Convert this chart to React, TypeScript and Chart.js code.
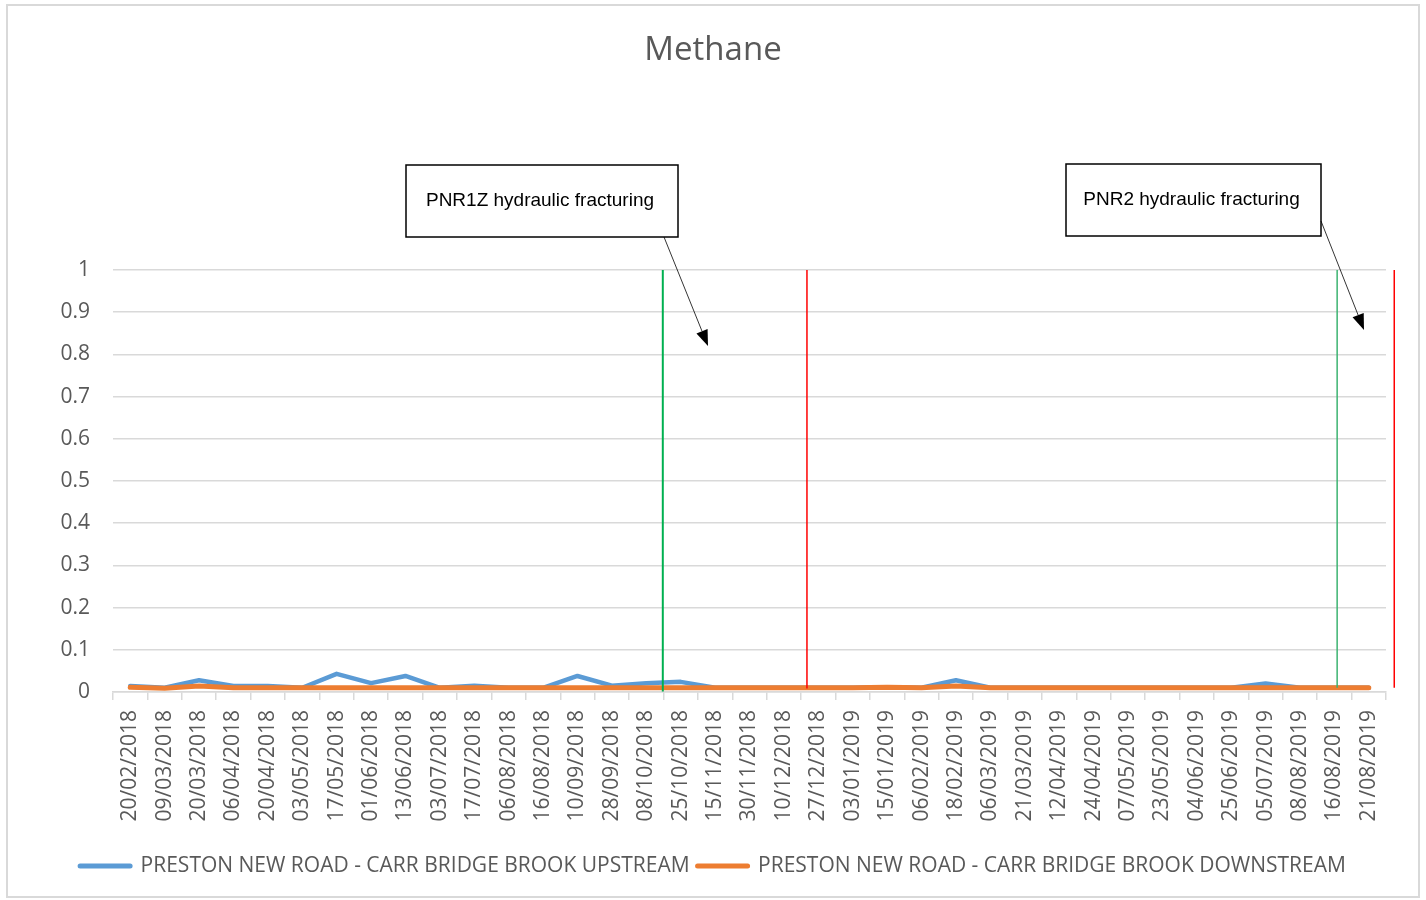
import React, { useEffect, useRef } from "react";
import { Chart, registerables } from "chart.js";

Chart.register(...registerables);

const categories = [
  "20/02/2018", "09/03/2018", "20/03/2018", "06/04/2018", "20/04/2018", "03/05/2018",
  "17/05/2018", "01/06/2018", "13/06/2018", "03/07/2018", "17/07/2018", "06/08/2018",
  "16/08/2018", "10/09/2018", "28/09/2018", "08/10/2018", "25/10/2018", "15/11/2018",
  "30/11/2018", "10/12/2018", "27/12/2018", "03/01/2019", "15/01/2019", "06/02/2019",
  "18/02/2019", "06/03/2019", "21/03/2019", "12/04/2019", "24/04/2019", "07/05/2019",
  "23/05/2019", "04/06/2019", "25/06/2019", "05/07/2019", "08/08/2019", "16/08/2019",
  "21/08/2019",
];

const upstream = [
  0.014, 0.01, 0.028, 0.014, 0.014, 0.01, 0.043, 0.021, 0.038, 0.01, 0.015, 0.01,
  0.01, 0.038, 0.015, 0.021, 0.024, 0.01, 0.01, 0.01, 0.01, 0.01, 0.011, 0.01,
  0.028, 0.01, 0.01, 0.01, 0.01, 0.01, 0.01, 0.01, 0.01, 0.02, 0.01, 0.01, 0.01,
];

const downstream = [
  0.011, 0.009, 0.014, 0.01, 0.01, 0.01, 0.01, 0.01, 0.01, 0.01, 0.01, 0.01,
  0.01, 0.01, 0.01, 0.01, 0.01, 0.01, 0.01, 0.01, 0.01, 0.01, 0.011, 0.01,
  0.014, 0.01, 0.01, 0.01, 0.01, 0.01, 0.01, 0.01, 0.01, 0.01, 0.01, 0.01, 0.01,
];

const seriesNames = [
  "PRESTON NEW ROAD - CARR BRIDGE BROOK UPSTREAM",
  "PRESTON NEW ROAD - CARR BRIDGE BROOK DOWNSTREAM",
];

const yTicks = [0, 0.1, 0.2, 0.3, 0.4, 0.5, 0.6, 0.7, 0.8, 0.9, 1];

// event markers (fractional category index)
const markerPositions = [15.48, 19.67, 35.08, 36.74];
const markerColors = ["#00b050", "#ff0000", "#3cb371", "#ff0000"];
const markerBottoms = [0.001, 0.008, 0.01, 0.01];

const annotationTexts = ["PNR1Z hydraulic fracturing", "PNR2 hydraulic fracturing"];

const FONT = "'Open Sans', 'Noto Sans', sans-serif";
const GRAY = "#595959";

const overlayPlugin = {
  id: "overlay",
  afterDatasetsDraw(chart: any) {
    const ctx = chart.ctx;
    const xs = chart.scales.x;
    const ys = chart.scales.y;
    ctx.save();
    markerPositions.forEach((p, i) => {
      const x = xs.getPixelForValue(p);
      ctx.beginPath();
      ctx.strokeStyle = markerColors[i];
      ctx.lineWidth = i === 0 ? 2 : 1.5;
      ctx.moveTo(x, ys.getPixelForValue(1));
      ctx.lineTo(x, ys.getPixelForValue(markerBottoms[i]));
      ctx.stroke();
    });
    ctx.restore();
  },
  afterDraw(chart: any) {
    const ctx = chart.ctx;
    ctx.save();
    const boxes = [
      { x: 406, y: 165, w: 272, h: 72, text: annotationTexts[0], from: [664, 237], to: [708, 346] },
      { x: 1066, y: 164, w: 255, h: 72, text: annotationTexts[1], from: [1321, 221], to: [1364, 330] },
    ];
    boxes.forEach((b) => {
      ctx.fillStyle = "#ffffff";
      ctx.fillRect(b.x, b.y, b.w, b.h);
      ctx.strokeStyle = "#000000";
      ctx.lineWidth = 1.5;
      ctx.strokeRect(b.x, b.y, b.w, b.h);
      ctx.fillStyle = "#000000";
      ctx.font = "19px 'Liberation Sans', Arial, sans-serif";
      ctx.textAlign = "center";
      ctx.textBaseline = "middle";
      ctx.fillText(b.text, b.x + b.w / 2 - 2, b.y + b.h / 2);
      // arrow
      const [x1, y1] = b.from;
      const [x2, y2] = b.to;
      const ang = Math.atan2(y2 - y1, x2 - x1);
      const headLen = 16;
      const headW = 6;
      const bx = x2 - headLen * Math.cos(ang);
      const by = y2 - headLen * Math.sin(ang);
      ctx.beginPath();
      ctx.lineWidth = 0.8;
      ctx.moveTo(x1, y1);
      ctx.lineTo(bx, by);
      ctx.stroke();
      ctx.beginPath();
      ctx.moveTo(x2, y2);
      ctx.lineTo(bx + headW * Math.sin(ang), by - headW * Math.cos(ang));
      ctx.lineTo(bx - headW * Math.sin(ang), by + headW * Math.cos(ang));
      ctx.closePath();
      ctx.fill();
    });
    ctx.restore();
  },
};

export default function App() {
  const ref = useRef<HTMLCanvasElement>(null);
  useEffect(() => {
    if (!ref.current) return;
    const chart = new Chart(ref.current, {
      type: "line",
      data: {
        labels: categories,
        datasets: [
          {
            label: seriesNames[0],
            data: upstream,
            borderColor: "#5b9bd5",
            backgroundColor: "#5b9bd5",
            borderWidth: 4.5,
            pointRadius: 0,
            borderCapStyle: "round",
            borderJoinStyle: "round",
            tension: 0,
            order: 2,
          },
          {
            label: seriesNames[1],
            data: downstream,
            borderColor: "#ed7d31",
            backgroundColor: "#ed7d31",
            borderWidth: 5,
            pointRadius: 0,
            borderCapStyle: "round",
            borderJoinStyle: "round",
            tension: 0,
            order: 1,
          },
        ],
      },
      options: {
        animation: false,
        responsive: true,
        maintainAspectRatio: false,
        layout: { padding: { left: 0, right: 0, top: 0, bottom: 13.5 } },
        plugins: {
          tooltip: { enabled: false },
          title: {
            display: true,
            text: "Methane",
            color: GRAY,
            font: { family: FONT, size: 33, weight: "normal" },
            padding: { top: 31, bottom: 199.4 },
          },
          legend: {
            position: "bottom",
            labels: {
              usePointStyle: true,
              pointStyleWidth: 50,
              padding: 8,
              color: GRAY,
              font: { family: FONT, size: 21 },
              generateLabels: (c: any) =>
                c.data.datasets.map((ds: any, i: number) => ({
                  text: ds.label,
                  fillStyle: ds.borderColor,
                  strokeStyle: ds.borderColor,
                  lineWidth: 5,
                  lineCap: "round",
                  pointStyle: "line",
                  hidden: false,
                  datasetIndex: i,
                  fontColor: GRAY,
                })),
            },
          },
        },
        scales: {
          x: {
            type: "category",
            offset: true,
            grid: {
              offset: true,
              drawOnChartArea: false,
              drawTicks: true,
              tickLength: 8,
              color: "#d9d9d9",
              lineWidth: 1.5,
            },
            border: { display: true, color: "#d9d9d9", width: 1.5 },
            ticks: {
              autoSkip: false,
              minRotation: 90,
              maxRotation: 90,
              padding: 10,
              color: GRAY,
              font: { family: FONT, size: 21 },
            },
            afterFit: (s: any) => {
              s.height = 155.5;
            },
          },
          y: {
            min: 0,
            max: 1,
            afterBuildTicks: (s: any) => {
              s.ticks = yTicks.map((v) => ({ value: v }));
            },
            grid: { drawTicks: false, color: "#d9d9d9", lineWidth: 1.5 },
            border: { display: false },
            ticks: {
              padding: 23,
              color: GRAY,
              font: { family: FONT, size: 21 },
              callback: (v: any) => String(Math.round(Number(v) * 10) / 10),
            },
            afterFit: (s: any) => {
              s.width = 113;
            },
          },
          yRight: {
            position: "right",
            min: 0,
            max: 1,
            grid: { display: false, drawTicks: false },
            border: { display: false },
            ticks: { display: false },
            afterFit: (s: any) => {
              s.width = 40;
            },
          },
        },
      },
      plugins: [overlayPlugin],
    });
    return () => chart.destroy();
  }, []);

  return (
    <>
      <div
        style={{
          position: "absolute",
          left: 6,
          top: 4,
          width: 1414,
          height: 894,
          boxSizing: "border-box",
          border: "2px solid #d9d9d9",
          background: "#ffffff",
        }}
      />
      <div style={{ position: "absolute", left: 0, top: 0, width: 1426, height: 900 }}>
        <canvas ref={ref} />
      </div>
    </>
  );
}
